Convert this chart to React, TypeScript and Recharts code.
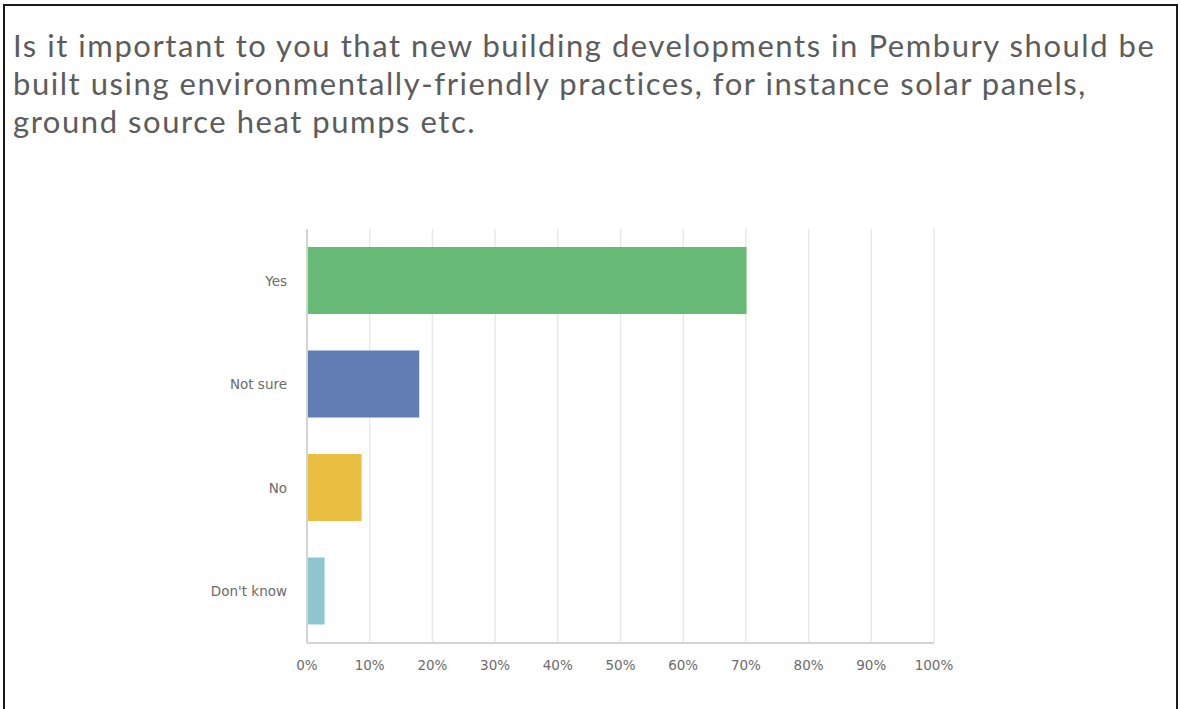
import React from "react";
import { BarChart, Bar, XAxis, YAxis, CartesianGrid, Cell } from "recharts";

const titleLines = [
  "Is it important to you that new building developments in Pembury should be",
  "built using environmentally-friendly practices, for instance solar panels,",
  "ground source heat pumps etc.",
];
const categories = ["Yes", "Not sure", "No", "Don't know"];
const percentages = [70.1, 17.9, 8.7, 2.8];
const barColors = ["#68BB77", "#617DB4", "#EABF41", "#8DC6CD"];
const xTicks = [0, 10, 20, 30, 40, 50, 60, 70, 80, 90, 100];

const data = categories.map((c, i) => ({ name: c, value: percentages[i] }));

const tickStyle = { fontFamily: "'DejaVu Sans', sans-serif", fontSize: 13.5, fill: "#6b6b6b" };

export default function App() {
  return (
    <div style={{ position: "absolute", left: 0, top: 0, width: 1180, height: 709, overflow: "hidden", background: "#fff" }}>
      <div
        style={{
          position: "absolute",
          left: 3,
          top: 4,
          width: 1171,
          height: 760,
          border: "2px solid #1a1a1a",
        }}
      />
      <div
        style={{
          position: "absolute",
          left: 13,
          top: 26,
          fontFamily: "Lato, sans-serif",
          fontSize: 31,
          letterSpacing: 1.55,
          lineHeight: "38px",
          color: "#5c5c5c",
          whiteSpace: "nowrap",
        }}
      >
        {titleLines.map((l, i) => (
          <div key={i}>{l}</div>
        ))}
      </div>
      <div style={{ position: "absolute", left: 0, top: 0 }}>
        <BarChart
          width={1180}
          height={709}
          data={data}
          layout="vertical"
          margin={{ top: 229, right: 246, bottom: 36, left: 207 }}
          barSize={67}
        >
          <CartesianGrid horizontal={false} vertical={true} stroke="#e8e8e8" strokeWidth={1.5} />
          <XAxis
            type="number"
            domain={[0, 100]}
            ticks={xTicks}
            tickFormatter={(v) => `${v}%`}
            axisLine={{ stroke: "#d4d4d4", strokeWidth: 2 }}
            tickLine={false}
            tickSize={0}
            tickMargin={17}
            height={30}
            tick={tickStyle}
            interval={0}
          />
          <YAxis
            type="category"
            dataKey="name"
            width={100}
            axisLine={{ stroke: "#d4d4d4", strokeWidth: 2 }}
            tickLine={false}
            tickSize={0}
            tickMargin={20}
            tick={tickStyle}
          />
          <Bar dataKey="value" isAnimationActive={false}>
            {data.map((d, i) => (
              <Cell key={d.name} fill={barColors[i]} />
            ))}
          </Bar>
        </BarChart>
      </div>
    </div>
  );
}
